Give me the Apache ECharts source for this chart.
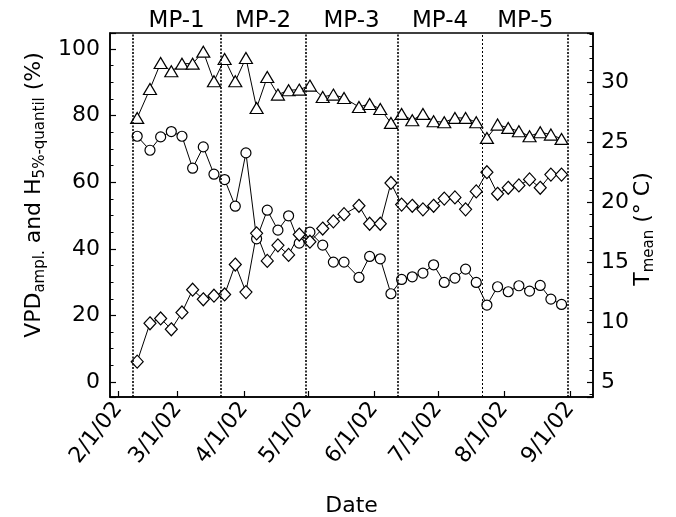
<!DOCTYPE html>
<html>
<head>
<meta charset="utf-8">
<script src="https://cdn.jsdelivr.net/npm/echarts@6/dist/echarts.min.js"></script>
<style>
html, body { margin: 0; padding: 0; background: #fff; }
#chart { width: 676px; height: 517px; }
</style>
</head>
<body>
<div id="chart"></div>
<script>
// sampling dates
const dates = ['2002-02-10', '2002-02-16', '2002-02-21', '2002-02-26', '2002-03-03', '2002-03-08', '2002-03-13', '2002-03-18',
  '2002-03-23', '2002-03-28', '2002-04-02', '2002-04-07', '2002-04-12', '2002-04-17', '2002-04-22', '2002-04-27',
  '2002-05-02', '2002-05-08', '2002-05-13', '2002-05-18', '2002-05-25', '2002-05-30', '2002-06-04', '2002-06-09',
  '2002-06-14', '2002-06-19', '2002-06-24', '2002-06-29', '2002-07-04', '2002-07-09', '2002-07-14', '2002-07-19',
  '2002-07-24', '2002-07-29', '2002-08-03', '2002-08-08', '2002-08-13', '2002-08-18', '2002-08-23', '2002-08-28']
// H 5%-quantil (%) - triangles
const hQuantil = [79.3, 88.0, 95.8, 93.3, 95.6, 95.6, 99.2, 90.3, 97.0, 90.3, 97.3, 82.3, 91.6, 86.3, 87.6, 87.8,
  89.0, 85.6, 86.3, 85.3, 82.6, 83.5, 82.0, 77.8, 80.5, 78.6, 80.5, 78.3, 78.0, 79.3, 79.3, 78.0,
  73.3, 77.3, 76.3, 75.3, 73.8, 75.0, 74.3, 73.0]
// VPD ampl. (%) - circles
const vpdAmpl = [73.8, 69.6, 73.6, 75.2, 73.8, 64.2, 70.6, 62.4, 60.8, 52.8, 68.8, 43.0, 51.6, 45.6, 49.9, 41.7,
  45.0, 41.1, 36.0, 36.0, 31.4, 37.7, 37.0, 26.5, 30.8, 31.6, 32.7, 35.2, 29.9, 31.2, 33.9, 29.9,
  23.1, 28.6, 27.1, 28.9, 27.3, 29.0, 24.9, 23.3]
// T mean (°C) - diamonds, right axis
const tMean = [6.7, 9.9, 10.3, 9.4, 10.8, 12.7, 11.9, 12.2, 12.3, 14.8, 12.5, 17.4, 15.1, 16.4, 15.6, 17.3,
  16.7, 17.8, 18.4, 19.0, 19.7, 18.2, 18.2, 21.6, 19.8, 19.7, 19.4, 19.7, 20.3, 20.4, 19.4, 20.9,
  22.5, 20.7, 21.2, 21.4, 21.9, 21.2, 22.3, 22.3]
// measuring periods
const periodBounds = ['2002-02-08', '2002-03-21', '2002-04-30', '2002-06-12', '2002-07-22', '2002-08-31']
const periodNames = ['MP-1', 'MP-2', 'MP-3', 'MP-4', 'MP-5']
// x tick labels
const monthTicks = ['2002-02-01', '2002-03-01', '2002-04-01', '2002-05-01', '2002-06-01', '2002-07-01', '2002-08-01', '2002-09-01']
const monthLabels = ['2/1/02', '3/1/02', '4/1/02', '5/1/02', '6/1/02', '7/1/02', '8/1/02', '9/1/02']

function ts (s) {
  const p = s.split('-').map(Number)
  return new Date(p[0], p[1] - 1, p[2], p[3] || 0).getTime()
}

const font = 'DejaVu Sans'
const monthVals = monthTicks.map(ts)

const myChart = echarts.init(document.getElementById('chart'))

const symStyle = { color: '#fff', borderColor: '#000', borderWidth: 1.2 }
const lineStyle = { color: '#000', width: 1 }
const tickStyle = { color: '#000', width: 1.2 }

const option = {
  animation: false,
  backgroundColor: '#fff',
  textStyle: { fontFamily: font, color: '#000' },
  grid: {
    left: 110,
    right: 83,
    top: 33,
    bottom: 120,
    outerBoundsMode: 'none',
    show: true,
    borderColor: '#000',
    borderWidth: 1.5
  },
  xAxis: {
    type: 'value',
    min: ts('2002-01-28-6'),
    max: ts('2002-09-11-18'),
    name: 'Date',
    nameLocation: 'middle',
    nameGap: 98,
    nameMoveOverlap: false,
    nameTextStyle: { fontSize: 22, color: '#000', fontFamily: font },
    axisLine: { show: true, onZero: false, lineStyle: { color: '#000', width: 1.5 } },
    axisTick: { show: true, inside: true, length: 6, customValues: monthVals, lineStyle: tickStyle },
    axisLabel: {
      customValues: monthVals,
      rotate: 52,
      margin: 8,
      fontSize: 22,
      color: '#000',
      fontFamily: font,
      formatter: function (v) {
        const i = monthVals.indexOf(v)
        return i >= 0 ? monthLabels[i] : ''
      }
    },
    splitLine: { show: false }
  },
  yAxis: [{
    type: 'value',
    min: -4.5,
    max: 104.8,
    position: 'left',
    name: 'VPD{s|ampl.} and H{s|5%-quantil} (%)',
    nameLocation: 'middle',
    nameGap: 62,
    nameMoveOverlap: false,
    nameTextStyle: {
      fontSize: 22,
      color: '#000',
      fontFamily: font,
      padding: [0, 0, 0, 40],
      rich: {
        s: { fontSize: 15, fontFamily: font, color: '#000', padding: [12, 0, 0, 0] }
      }
    },
    axisLine: { show: true, onZero: false, lineStyle: { color: '#000', width: 1.5 } },
    axisTick: { show: true, inside: true, length: 6, lineStyle: tickStyle },
    minorTick: { show: true, splitNumber: 4, length: 3.5, lineStyle: { color: '#000', width: 1 } },
    axisLabel: { fontSize: 22, color: '#000', fontFamily: font, margin: 10, showMinLabel: false, showMaxLabel: false },
    splitLine: { show: false }
  }, {
    type: 'value',
    min: 3.75,
    max: 34.11,
    position: 'right',
    name: 'T{s|mean} (° C)',
    nameLocation: 'middle',
    nameRotate: 90,
    nameGap: 37,
    nameMoveOverlap: false,
    nameTextStyle: {
      fontSize: 22,
      color: '#000',
      fontFamily: font,
      padding: [0, 28, 0, 0],
      rich: {
        s: { fontSize: 15, fontFamily: font, color: '#000', padding: [12, 0, 0, 0] }
      }
    },
    axisLine: { show: true, onZero: false, lineStyle: { color: '#000', width: 1.5 } },
    axisTick: { show: true, inside: true, length: 6, lineStyle: tickStyle },
    minorTick: { show: true, splitNumber: 5, length: 3.5, lineStyle: { color: '#000', width: 1 } },
    axisLabel: { fontSize: 22, color: '#000', fontFamily: font, margin: 8, showMinLabel: false, showMaxLabel: false },
    splitLine: { show: false }
  }],
  series: [{
    name: 'H 5%-quantil',
    type: 'line',
    symbol: 'triangle',
    symbolSize: [13, 11],
    itemStyle: symStyle,
    lineStyle: lineStyle,
    data: dates.map((d, i) => [ts(d), hQuantil[i]]),
    markLine: {
      silent: true,
      symbol: ['none', 'none'],
      label: { show: false },
      lineStyle: { color: '#000', type: [2, 1.5], width: 1.5 },
      data: periodBounds.map((d, i) => ({
        xAxis: ts(d),
        lineStyle: { width: i === 4 ? 1 : 1.6, type: i === 4 ? [2, 2] : [2, 1.5], color: '#000' }
      }))
    },
    markArea: {
      silent: true,
      itemStyle: { color: 'rgba(0,0,0,0)' },
      label: { show: true, position: 'top', distance: 0, fontSize: 23, color: '#000', fontFamily: font },
      data: periodNames.map((n, i) => [
        { xAxis: ts(periodBounds[i]), name: n },
        { xAxis: ts(periodBounds[i + 1]) }
      ])
    }
  }, {
    name: 'VPD ampl.',
    type: 'line',
    symbol: 'circle',
    symbolSize: 10,
    itemStyle: symStyle,
    lineStyle: lineStyle,
    data: dates.map((d, i) => [ts(d), vpdAmpl[i]])
  }, {
    name: 'T mean',
    type: 'line',
    yAxisIndex: 1,
    symbol: 'diamond',
    symbolSize: [12, 13],
    itemStyle: symStyle,
    lineStyle: lineStyle,
    data: dates.map((d, i) => [ts(d), tMean[i]])
  }]
}

myChart.setOption(option)
window.addEventListener('resize', () => {
  myChart.resize()
})
</script>
</body>
</html>
